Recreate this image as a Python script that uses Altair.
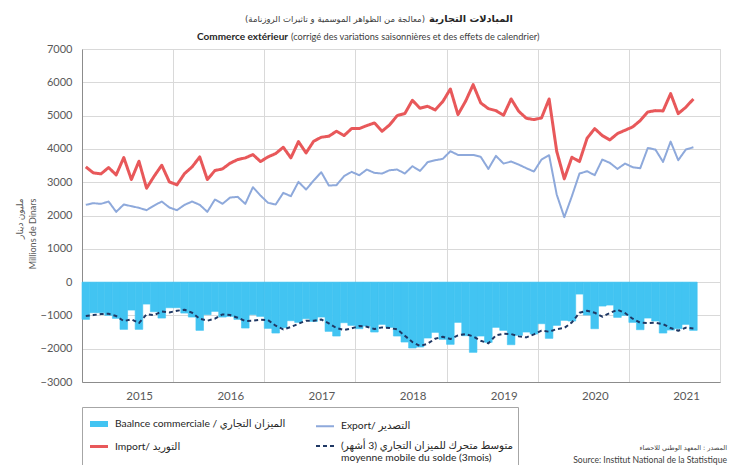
import json
import altair as alt
import pandas as pd

# ---------------- data (monthly, June 2014 -> February 2021) ----------------
FIRST_MONTH = "2014-06"
year_labels = ["2015", "2016", "2017", "2018", "2019", "2020", "2021"]
y_ticks = [-3000, -2000, -1000, 0, 1000, 2000, 3000, 4000, 5000, 6000, 7000]

imports = [
    3460, 3280, 3250, 3440, 3220, 3740, 3080, 3630, 2820, 3180,
    3510, 3010, 2920, 3260, 3460, 3760, 3080, 3350, 3400, 3570,
    3680, 3730, 3830, 3620, 3760, 3860, 4050, 3730, 4220, 3880,
    4230, 4350, 4380, 4530, 4400, 4610, 4610, 4700, 4780, 4530,
    4720, 5000, 5060, 5460, 5220, 5280, 5170, 5420, 5800, 5030,
    5430, 5930, 5380, 5210, 5150, 5010, 5500, 5130, 4920, 4880,
    4930, 5500, 3930, 3100, 3750, 3620, 4320, 4610, 4400, 4270,
    4460, 4560, 4660, 4850, 5110, 5150, 5140, 5660, 5060, 5250,
    5500,
]
exports = [
    2320, 2370, 2350, 2420, 2110, 2330, 2280, 2230, 2160, 2300,
    2420, 2240, 2160, 2320, 2420, 2320, 2110, 2480, 2350, 2540,
    2560, 2350, 2850, 2600, 2380, 2330, 2680, 2580, 3010, 2780,
    3050, 3300, 2900, 2910, 3180, 3310, 3210, 3380, 3280, 3260,
    3360, 3380, 3260, 3480, 3340, 3600, 3660, 3700, 3930, 3820,
    3820, 3820, 3760, 3400, 3790, 3560, 3620, 3530, 3420, 3320,
    3680, 3810, 2630, 1950, 2580, 3260, 3330, 3210, 3680, 3580,
    3400, 3560, 3450, 3420, 4030, 3980, 3610, 4220, 3660, 3980,
    4050,
]
balance = [
    -1120, -920, -920, -1000, -1090, -1420, -840, -1420, -660, -890,
    -1080, -770, -770, -930, -1050, -1450, -980, -880, -1050, -1030,
    -1120, -1380, -980, -1030, -1390, -1530, -1370, -1160, -1210, -1100,
    -1180, -1050, -1480, -1620, -1220, -1300, -1400, -1320, -1500, -1270,
    -1360, -1620, -1800, -1980, -1950, -1680, -1510, -1720, -1870, -1210,
    -1610, -2110, -1620, -1810, -1360, -1450, -1880, -1600, -1500, -1560,
    -1250, -1690, -1300, -1150, -1170, -360, -990, -1400, -720, -690,
    -1060, -1000, -1210, -1430, -1080, -1170, -1530, -1440, -1400, -1270,
    -1450,
]
moving_avg = [
    -1020, -990, -960, -950, -1020, -1170, -1120, -1230, -970, -990,
    -880, -910, -860, -830, -920, -1100, -1160, -1100, -970, -990,
    -1070, -1170, -1160, -1130, -1140, -1310, -1420, -1350, -1250, -1160,
    -1160, -1120, -1240, -1380, -1440, -1390, -1320, -1340, -1410, -1360,
    -1380, -1420, -1610, -1800, -1920, -1850, -1700, -1640, -1710, -1600,
    -1560, -1630, -1760, -1840, -1600, -1550, -1560, -1630, -1660, -1570,
    -1460, -1490, -1410, -1380, -1210, -920, -860, -920, -1040, -930,
    -830, -930, -1100, -1220, -1230, -1220, -1260, -1380, -1460, -1370,
    -1390,
]

# legend order (filled column by column): balance, import | export, moving average
BAL = "Baalnce commerciale / الميزان التجاري"
IMP = "Import/ التوريد"
EXP = "Export/ التصدير"
MA = "متوسط متحرك للميزان التجاري (3 أشهر)|moyenne mobile du solde (3mois)"
series_names = [BAL, IMP, EXP, MA]
series_values = [balance, imports, exports, moving_avg]

months = pd.date_range(FIRST_MONTH, periods=len(imports), freq="MS")
rows = []
for name, vals in zip(series_names, series_values):
    for i, v in enumerate(vals):
        rows.append({"month": months[i].strftime("%Y-%m"), "i": i, "i1": i + 1,
                     "im": i + 0.5, "series": name, "value": v})
df = pd.DataFrame(rows)

# ---------------- styling ----------------
FONT = "Lato, DejaVu Sans"
AR_FONT = "DejaVu Sans"
BAR_COLOR = "#42C4F2"
series_colors = [BAR_COLOR, "#E8585A", "#8EA9DB", "#1F3864"]
series_dashes = [[1, 0], [1, 0], [1, 0], [4, 3]]
series_widths = [6, 3, 2, 2]

xscale = alt.Scale(domain=[0, 84], nice=False, zero=False)
yscale = alt.Scale(domain=[-3000, 7000], nice=False, zero=False)

label_expr = f"{json.dumps(year_labels)}[round(datum.value / 12) - 1]"
xaxis = alt.Axis(values=[12, 24, 36, 48, 60, 72, 84], labelExpr=label_expr, labelOffset=-34,
                 labelFlush=False, labelOverlap=False, ticks=False, labelPadding=8,
                 labelFontSize=11.5, labelColor="#595959", labelFont=FONT,
                 gridColor="#D9D9D9", domainColor="#8C8C8C", title=None)
yaxis = alt.Axis(values=y_ticks, format="d", ticks=False, labelPadding=10, labelFontSize=11,
                 labelColor="#595959", labelFont=FONT, gridColor="#D9D9D9",
                 domainColor="#8C8C8C",
                 title=["مليون دينار", "Millions de Dinars"], titleX=-63, titleY=149,
                 titleAngle=270, titleAlign="right", titleBaseline="middle",
                 titleFontSize=9, titleFontWeight="normal", titleColor="#595959",
                 titleLineHeight=13, titleFont=FONT)

legend = alt.Legend(title=None, orient="none", legendX=0, legendY=358, columns=2,
                    symbolType="stroke", symbolSize=324, labelExpr="split(datum.label, '|')",
                    labelFont=FONT, labelFontSize=10.3, labelColor="#262626", labelLimit=500,
                    labelOffset=4, columnPadding=26, rowPadding=0, padding=5,
                    strokeColor="#A6A6A6")

bars = alt.Chart(df).transform_filter(
    alt.datum.series == BAL
).mark_rect(fill=BAR_COLOR, stroke=BAR_COLOR, strokeWidth=0.6).encode(
    x=alt.X("i:Q", scale=xscale, axis=xaxis),
    x2="i1:Q",
    y=alt.Y("value:Q", scale=yscale, axis=yaxis),
    y2=alt.datum(0),
)

lines = alt.Chart(df).transform_filter(
    alt.datum.series != BAL
).mark_line(strokeJoin="round").encode(
    x=alt.X("im:Q", scale=xscale, axis=xaxis),
    y=alt.Y("value:Q", scale=yscale, axis=yaxis),
    color=alt.Color("series:N", scale=alt.Scale(domain=series_names, range=series_colors),
                    legend=legend),
    strokeDash=alt.StrokeDash("series:N", scale=alt.Scale(type="ordinal", domain=series_names,
                                                         range=series_dashes), legend=legend),
    strokeWidth=alt.StrokeWidth("series:N", scale=alt.Scale(type="ordinal", domain=series_names,
                                                           range=series_widths), legend=legend),
    order="i:Q",
)


def note(txt, x, y, size, weight="normal", align="left", color="#404040", font=FONT):
    return alt.Chart(alt.Data(values=[{}])).mark_text(
        text=txt, fontSize=size, fontWeight=weight, align=align, baseline="middle",
        color=color, font=font
    ).encode(x=alt.value(x), y=alt.value(y))


texts = [
    note("المبادلات التجارية", 347, -30, 9.8, "bold", "left", "#262626", AR_FONT),
    note("(معالجة من الظواهر الموسمية و تاثيرات الروزنامة)", 343, -30, 8.5, "normal", "right",
         "#404040", AR_FONT),
    note("Commerce extérieur", 206, -12, 10, "bold", "right", "#262626"),
    note("(corrigé des variations saisonnières et des effets de calendrier)", 209, -12, 9.2,
         "normal", "left", "#404040"),
    note("المصدر : المعهد الوطني للاحصاء", 645, 399, 6.5, "normal", "right", "#404040", AR_FONT),
    note("Source: Institut National de la Statistique", 645, 411, 8.6, "normal", "right",
         "#404040"),
]

chart = alt.layer(bars, lines, *texts).properties(
    width=638, height=333,
    autosize=alt.AutoSizeParams(type="none"),
    padding={"left": 74, "top": 41, "right": 9, "bottom": 83},
).configure_view(stroke="#A6A6A6", strokeWidth=1).configure(background="white")

chart.save("out.html", embed_options={"renderer": "svg", "actions": False})
